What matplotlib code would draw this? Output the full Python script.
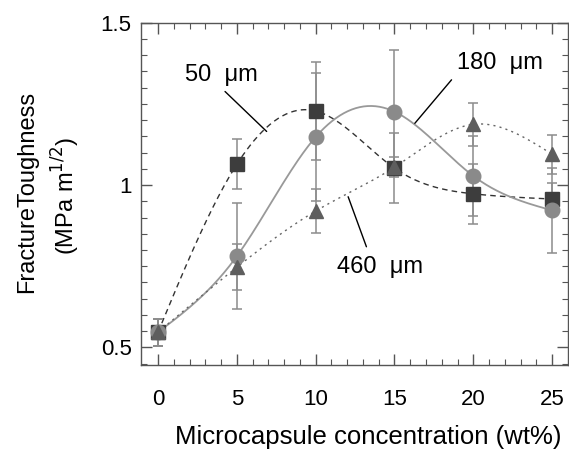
import numpy as np
import matplotlib.pyplot as plt

plt.rcParams['font.family'] = ['Liberation Sans', 'DejaVu Sans']

conc = [0, 5, 10, 15, 20, 25]

# 50 um capsules (squares)
tough_50 = [0.547, 1.064, 1.228, 1.052, 0.973, 0.957]
err_50 = [0.042, 0.077, 0.150, 0.108, 0.092, 0.05]
# 180 um capsules (circles)
tough_180 = [0.547, 0.781, 1.148, 1.226, 1.028, 0.922]
err_180 = [0.042, 0.163, 0.196, 0.190, 0.124, 0.130]
# 460 um capsules (triangles)
tough_460 = [0.547, 0.747, 0.920, 1.055, 1.187, 1.095]
err_460 = [0.042, 0.070, 0.068, 0.03, 0.067, 0.060]


def natural_spline(x, y, n=300):
    # plain natural cubic spline through the measured points
    x = np.asarray(x, float)
    y = np.asarray(y, float)
    k = len(x)
    h = np.diff(x)
    A = np.zeros((k, k))
    b = np.zeros(k)
    A[0, 0] = A[-1, -1] = 1
    for i in range(1, k - 1):
        A[i, i - 1] = h[i - 1]
        A[i, i] = 2 * (h[i - 1] + h[i])
        A[i, i + 1] = h[i]
        b[i] = 3 * ((y[i + 1] - y[i]) / h[i] - (y[i] - y[i - 1]) / h[i - 1])
    c = np.linalg.solve(A, b)
    xs = np.linspace(x[0], x[-1], n)
    idx = np.clip(np.searchsorted(x, xs) - 1, 0, k - 2)
    dx = xs - x[idx]
    bb = (y[idx + 1] - y[idx]) / h[idx] - h[idx] * (2 * c[idx] + c[idx + 1]) / 3
    d = (c[idx + 1] - c[idx]) / (3 * h[idx])
    ys = y[idx] + bb * dx + c[idx] * dx ** 2 + d * dx ** 3
    return xs, ys


fig = plt.figure(figsize=(5.69, 4.53), dpi=100)
ax = fig.add_axes([0.2473, 0.1943, 0.7507, 0.7557])

xs, ys = natural_spline(conc, tough_50)
ax.plot(xs, ys, color='#333333', lw=1.0, ls=(0, (4, 3)), zorder=2)
xs, ys = natural_spline(conc, tough_180)
ax.plot(xs, ys, color='#999999', lw=1.3, ls='-', zorder=2)
xs, ys = natural_spline(conc, tough_460)
ax.plot(xs, ys, color='#666666', lw=1.0, ls=(0, (1.5, 3)), zorder=2)

ebar = dict(fmt='none', ecolor='#8c8c8c', elinewidth=1.1, capsize=3.5, capthick=1.1, zorder=3)
ax.errorbar(conc, tough_50, yerr=err_50, **ebar)
ax.errorbar(conc, tough_180, yerr=err_180, **ebar)
ax.errorbar(conc, tough_460, yerr=err_460, **ebar)

ax.plot(conc, tough_50, 's', color='#3d3d3d', ms=10, mec='#3d3d3d', zorder=4)
ax.plot(conc, tough_180, 'o', color='#8a8a8a', ms=10.5, mec='#8a8a8a', zorder=5)
ax.plot(conc, tough_460, '^', color='#5e5e5e', ms=10, mec='#5e5e5e', zorder=6)

# curve labels with leader lines
leader = dict(arrowstyle='-', color='black', lw=1, shrinkA=0, shrinkB=0)
ax.text(4.04, 1.339, '50  μm', fontsize=17, ha='center', va='center')
ax.annotate('', xy=(6.89, 1.165), xytext=(4.25, 1.288), arrowprops=leader)
ax.text(21.68, 1.376, '180  μm', fontsize=17, ha='center', va='center')
ax.annotate('', xy=(16.29, 1.190), xytext=(18.62, 1.324), arrowprops=leader)
ax.text(14.07, 0.748, '460  μm', fontsize=17, ha='center', va='center')
ax.annotate('', xy=(13.22, 0.810), xytext=(12.06, 0.964), arrowprops=leader)

ax.set_xlim(-1.1, 26)
ax.set_ylim(0.446, 1.5)
ax.set_xticks(conc)
ax.set_xticks(np.arange(0, 26, 1), minor=True)
ax.set_yticks([0.5, 1, 1.5])
ax.set_yticklabels(['0.5', '1', '1.5'])
ax.set_yticks(np.arange(0.45, 1.5, 0.05), minor=True)
ax.tick_params(which='both', direction='in', top=True, right=True,
               labelsize=16, color='#555555')
ax.tick_params(axis='x', pad=17)
ax.tick_params(axis='y', pad=6.5)
ax.tick_params(which='major', length=7.7, width=1)
ax.tick_params(which='minor', length=4.3, width=0.8)
for s in ax.spines.values():
    s.set_color('#555555')
    s.set_linewidth(1)

ax.set_xlabel('Microcapsule concentration (wt%)', fontsize=18.5)
ax.xaxis.set_label_coords(0.532, -0.209)
ax.xaxis.label.set_va('center')
fig.text(0.047, 0.576, 'FractureToughness', rotation=90, fontsize=17,
         ha='center', va='center')
fig.text(0.116, 0.567, '(MPa m$^{1/2}$)', rotation=90, fontsize=17,
         ha='center', va='center')

fig.savefig('out.png', dpi=100)
